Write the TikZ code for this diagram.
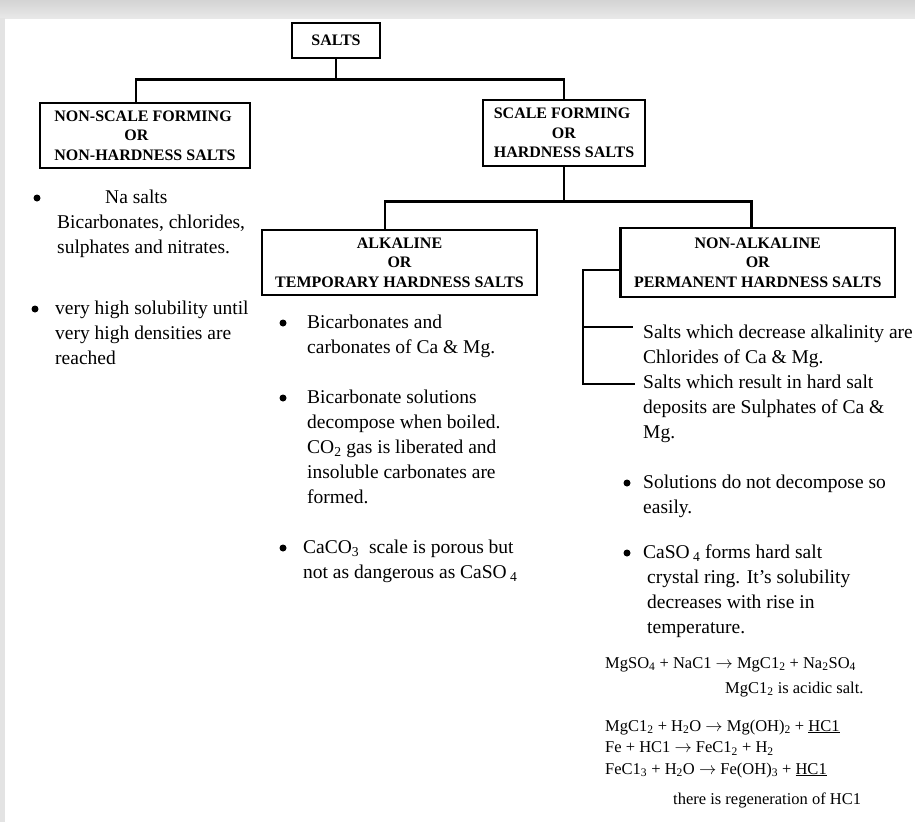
\documentclass[tikz,border=0pt]{standalone}
\usepackage{fontspec}
\setmainfont{Liberation Serif}
\usepackage{tikz}
\usetikzlibrary{positioning}
\newcommand\chemsub[1]{\textsubscript{#1}}

\begin{document}
\begin{tikzpicture}[x=1pt,y=-1pt,inner sep=0pt]
    \tikzstyle{box}=[draw=black,line width=2.6pt,align=center,font=\bfseries\fontsize{16}{19.5}\selectfont]
    \tikzstyle{link}=[draw=black,line width=2.6pt]
    \tikzstyle{txt}=[anchor=base west,align=left,font=\fontsize{19.5}{25}\selectfont]
    \tikzstyle{eq}=[anchor=base west,align=left,font=\fontsize{16.5}{21.5}\selectfont]
    \tikzstyle{bullet}=[circle,fill=black,minimum size=7pt]
    \useasboundingbox (0,0) rectangle (915,822);
    \fill[white] (0,0) rectangle (915,822);
    \shade[top color=black!17,bottom color=black!9] (0,0) rectangle (915,18);
    \fill[black!11] (0,18) rectangle (5,822);

    \node[box,minimum width=88pt,minimum height=35pt]    (salts)    at (336,40.5)    {SALTS};
    \node[box,align=left,minimum width=210pt,minimum height=65pt] (nonscale) at (145,135.5) {NON-SCALE FORMING\\\hspace*{70pt}OR\\NON-HARDNESS SALTS};
    \node[box,align=left,minimum width=162pt,minimum height=66pt] (scale)    at (564,133)   {SCALE FORMING\\\hspace*{58pt}OR\\HARDNESS SALTS};
    \node[box,minimum width=275pt,minimum height=65pt]   (alkaline) at (399.5,262.5) {ALKALINE\\OR\\TEMPORARY HARDNESS SALTS};
    \node[box,minimum width=274.5pt,minimum height=69pt] (nonalk)   at (757.75,262.5){NON-ALKALINE\\OR\\PERMANENT HARDNESS SALTS};

    \draw[link] (salts.south) -- ++(0,20) -| ([xshift=-9pt]nonscale.north);
    \draw[link] (salts.south) ++(0,20) -| (scale.north);
    \draw[link] (scale.south) -- ++(0,34) -| ([xshift=-14.5pt]alkaline.north);
    \draw[link] (scale.south) ++(0,34) -| ([xshift=-6pt]nonalk.north);

    \coordinate (k0) at (583,384);
    \coordinate (k1) at (635,384);
    \coordinate (k2) at (583,327);
    \coordinate (k3) at (633,327);
    \draw[draw=black,line width=2pt] ([yshift=-7.5pt]nonalk.west) -| (k0) -- (k1);
    \draw[draw=black,line width=1.1pt] (k2) -- (k3);

    \node[bullet] (b1) at (37,198) {};
    \node[txt]    (p1) at (57,253) {\hspace*{48pt}Na salts\\Bicarbonates, chlorides,\\sulphates and nitrates.};
    \node[bullet] (b2) at (35,309) {};
    \node[txt]    (p2) at (55,364) {very high solubility until\\very high densities are\\reached};

    \node[bullet] (b3) at (283,323) {};
    \node[txt]    (p3) at (307,353) {Bicarbonates and\\carbonates of Ca \& Mg.};
    \node[bullet] (b4) at (283,398) {};
    \node[txt]    (p4) at (307,503) {Bicarbonate solutions\\decompose when boiled.\\CO\chemsub{2} gas is liberated and\\insoluble carbonates are\\formed.};
    \node[bullet] (b5) at (283,548) {};
    \node[txt]    (p5) at (303,578) {CaCO\chemsub{3}\ \ scale is porous but\\not as dangerous as CaSO\,\chemsub{4}};

    \node[txt]    (p6) at (643,438) {Salts which decrease alkalinity are\\Chlorides of Ca \& Mg.\\Salts which result in hard salt\\deposits are Sulphates of Ca \&\\Mg.};
    \node[bullet] (b6) at (627,483) {};
    \node[txt]    (p7) at (643,513) {Solutions do not decompose so\\easily.};
    \node[bullet] (b7) at (627,553) {};
    \node[txt]    (p8) at (643,633) {CaSO\,\chemsub{4} forms hard salt\\\hspace*{4pt}crystal ring. It's solubility\\\hspace*{4pt}decreases with rise in\\\hspace*{4pt}temperature.};

    \node[eq] (e1) at (605,668) {MgSO\chemsub{4} + NaC1 $\rightarrow$ MgC1\chemsub{2} + Na\chemsub{2}SO\chemsub{4}};
    \node[eq] (e2) at (725,693) {MgC1\chemsub{2} is acidic salt.};
    \node[eq] (e3) at (605,774) {MgC1\chemsub{2} + H\chemsub{2}O $\rightarrow$ Mg(OH)\chemsub{2} + \underline{HC1}\\Fe + HC1 $\rightarrow$ FeC1\chemsub{2} + H\chemsub{2}\\FeC1\chemsub{3} + H\chemsub{2}O $\rightarrow$ Fe(OH)\chemsub{3} + \underline{HC1}};
    \node[eq] (e4) at (673,804) {there is regeneration of HC1};
\end{tikzpicture}
\end{document}
